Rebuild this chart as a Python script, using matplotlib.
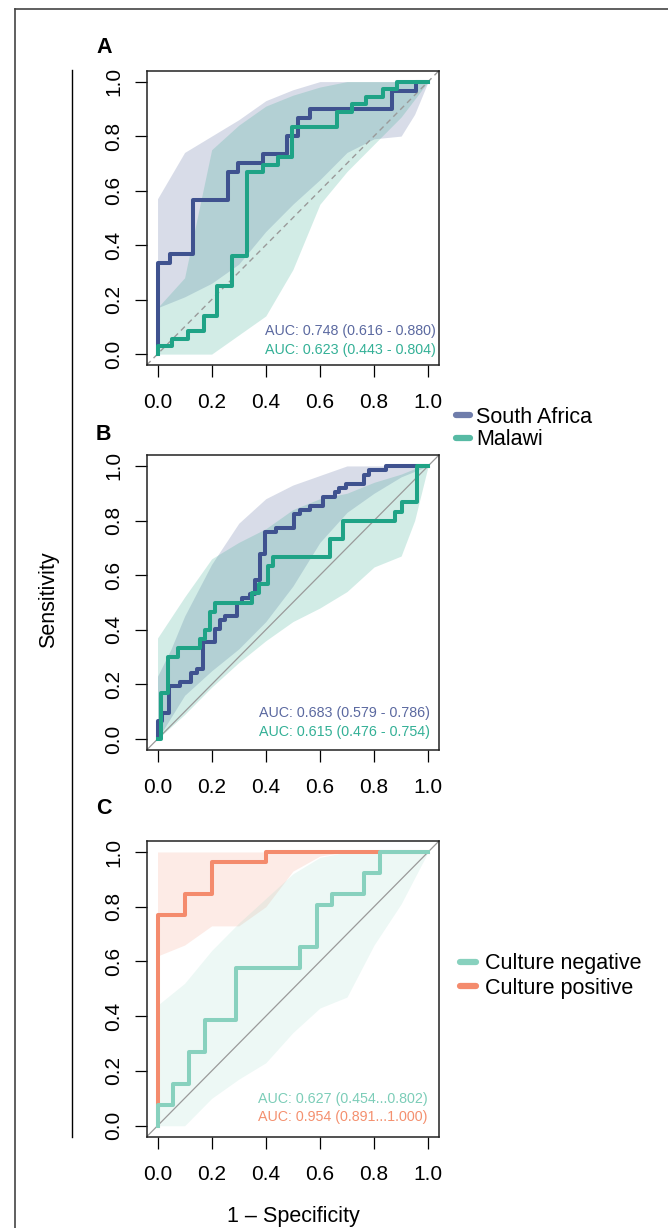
import numpy as np
import matplotlib
matplotlib.use('Agg')
import matplotlib.pyplot as plt
from matplotlib.lines import Line2D

plt.rcParams['font.family'] = ['Liberation Sans', 'DejaVu Sans']

# colours
sa_col = '#3F528F'
mw_col = '#1FA386'
neg_col = '#88D1BE'
pos_col = '#F48B6D'

# ---- panel A: ROC steps (1-specificity, sensitivity) ----
a_sa_x = [0, 0, 0.045, 0.131, 0.26, 0.297, 0.39, 0.478, 0.518, 0.565, 0.868, 0.955, 1.0]
a_sa_y = [0, 0.333, 0.367, 0.567, 0.667, 0.700, 0.733, 0.800, 0.867, 0.900, 0.967, 1.0, 1.0]
a_mw_x = [0, 0, 0.055, 0.113, 0.171, 0.22, 0.276, 0.33, 0.39, 0.445, 0.497, 0.662, 0.719, 0.77, 0.832, 0.885, 1.0]
a_mw_y = [0, 0.028, 0.056, 0.083, 0.139, 0.25, 0.361, 0.667, 0.694, 0.722, 0.833, 0.889, 0.917, 0.944, 0.972, 1.0, 1.0]
# confidence bands
a_sa_bx = [0, 0.1, 0.2, 0.3, 0.4, 0.5, 0.6, 0.7, 0.8, 0.9, 0.95, 1.0]
a_sa_lo = [0.17, 0.21, 0.26, 0.33, 0.45, 0.55, 0.64, 0.74, 0.79, 0.80, 0.88, 1.0]
a_sa_hi = [0.57, 0.74, 0.80, 0.86, 0.93, 0.97, 1.0, 1.0, 1.0, 1.0, 1.0, 1.0]
a_mw_bx = [0, 0.1, 0.2, 0.3, 0.4, 0.5, 0.6, 0.7, 0.8, 0.9, 1.0]
a_mw_lo = [0.0, 0.0, 0.0, 0.07, 0.14, 0.31, 0.55, 0.67, 0.77, 0.87, 1.0]
a_mw_hi = [0.17, 0.28, 0.75, 0.84, 0.91, 0.95, 0.98, 1.0, 1.0, 1.0, 1.0]
a_auc = ['AUC: 0.748 (0.616 - 0.880)', 'AUC: 0.623 (0.443 - 0.804)']

# ---- panel B ----
b_sa_x = [0, 0, 0.018, 0.043, 0.082, 0.125, 0.146, 0.168, 0.211, 0.23, 0.25, 0.294, 0.312, 0.343,
          0.359, 0.377, 0.398, 0.439, 0.504, 0.525, 0.564, 0.61, 0.654, 0.672, 0.697, 0.764, 0.782, 0.844, 1.0]
b_sa_y = [0, 0.065, 0.097, 0.194, 0.210, 0.242, 0.258, 0.355, 0.403, 0.435, 0.452, 0.500, 0.516, 0.532,
          0.581, 0.677, 0.758, 0.774, 0.823, 0.839, 0.855, 0.887, 0.903, 0.919, 0.935, 0.968, 0.984, 1.0, 1.0]
b_mw_x = [0, 0.012, 0.039, 0.076, 0.156, 0.174, 0.193, 0.211, 0.349, 0.375, 0.408, 0.426, 0.638, 0.684,
          0.878, 0.903, 0.958, 1.0]
b_mw_y = [0, 0.167, 0.300, 0.333, 0.367, 0.400, 0.467, 0.500, 0.533, 0.567, 0.633, 0.667, 0.733, 0.800,
          0.833, 0.867, 1.0, 1.0]
b_sa_bx = [0, 0.05, 0.1, 0.2, 0.3, 0.4, 0.5, 0.6, 0.7, 0.8, 0.9, 1.0]
b_sa_lo = [0.0, 0.08, 0.16, 0.25, 0.33, 0.43, 0.56, 0.72, 0.83, 0.90, 0.96, 1.0]
b_sa_hi = [0.23, 0.33, 0.45, 0.64, 0.79, 0.88, 0.93, 0.965, 1.0, 1.0, 1.0, 1.0]
b_mw_bx = [0, 0.1, 0.2, 0.3, 0.4, 0.5, 0.6, 0.7, 0.8, 0.9, 0.95, 1.0]
b_mw_lo = [0.0, 0.09, 0.19, 0.28, 0.36, 0.43, 0.48, 0.54, 0.63, 0.67, 0.80, 1.0]
b_mw_hi = [0.37, 0.52, 0.66, 0.72, 0.77, 0.84, 0.88, 0.90, 0.94, 0.97, 0.99, 1.0]
b_auc = ['AUC: 0.683 (0.579 - 0.786)', 'AUC: 0.615 (0.476 - 0.754)']

# ---- panel C ----
c_neg_x = [0, 0, 0.058, 0.117, 0.177, 0.291, 0.528, 0.588, 0.644, 0.762, 0.823, 1.0]
c_neg_y = [0, 0.077, 0.154, 0.269, 0.385, 0.577, 0.654, 0.808, 0.846, 0.923, 1.0, 1.0]
c_pos_x = [0, 0, 0.10, 0.20, 0.40, 1.0]
c_pos_y = [0, 0.769, 0.846, 0.962, 1.0, 1.0]
c_pos_bx = [0, 0.1, 0.2, 0.3, 0.4, 0.5, 0.6, 0.7, 1.0]
c_pos_lo = [0.62, 0.66, 0.73, 0.73, 0.80, 0.93, 0.985, 1.0, 1.0]
c_pos_hi = [1.0, 1.0, 1.0, 1.0, 1.0, 1.0, 1.0, 1.0, 1.0]
c_neg_bx = [0, 0.1, 0.2, 0.3, 0.4, 0.5, 0.6, 0.7, 0.8, 0.9, 1.0]
c_neg_lo = [0.0, 0.0, 0.10, 0.17, 0.23, 0.34, 0.43, 0.47, 0.66, 0.81, 1.0]
c_neg_hi = [0.44, 0.52, 0.64, 0.74, 0.83, 0.92, 0.98, 1.0, 1.0, 1.0, 1.0]
c_auc = ['AUC: 0.627 (0.454...0.802)', 'AUC: 0.954 (0.891...1.000)']

ticks = [0.0, 0.2, 0.4, 0.6, 0.8, 1.0]
tick_labels = ['0.0', '0.2', '0.4', '0.6', '0.8', '1.0']

W, H = 668, 1228
fig = plt.figure(figsize=(W / 100, H / 100), dpi=100)


def make_ax(top_px, bot_px):
    ax = fig.add_axes([146.7 / W, 1 - bot_px / H, 292.3 / W, (bot_px - top_px) / H])
    ax.set_xlim(-0.04, 1.04)
    ax.set_ylim(-0.04, 1.04)
    ax.set_xticks(ticks)
    ax.set_xticklabels(tick_labels)
    ax.set_yticks(ticks)
    ax.set_yticklabels(tick_labels, rotation=90, va='center')
    ax.tick_params(axis='both', length=8.5, width=0.9, labelsize=15, direction='out')
    ax.tick_params(axis='x', pad=12)
    ax.tick_params(axis='y', pad=8.5)
    for s in ax.spines.values():
        s.set_linewidth(1.1)
        s.set_color('#222222')
    return ax


def band(ax, bx, lo, hi, col, alpha):
    ax.fill_between(bx, lo, hi, color=col, alpha=alpha, linewidth=0, zorder=1)


def roc(ax, x, y, col):
    ax.plot(x, y, drawstyle='steps-post', color=col, lw=2.9, zorder=4)


def auc_text(ax, txt, cols, ys, xr):
    for t, c, yy in zip(txt, cols, ys):
        ax.text(xr, yy, t, color=c, ha='right', va='center', fontsize=10.3, zorder=5)


# A
axA = make_ax(70.7, 365)
band(axA, a_sa_bx, a_sa_lo, a_sa_hi, sa_col, 0.2)
band(axA, a_mw_bx, a_mw_lo, a_mw_hi, mw_col, 0.2)
axA.axline((0, 0), (1, 1), color='#9A9A9A', lw=1.0, ls=(0, (4, 3)), zorder=2)
roc(axA, a_sa_x, a_sa_y, sa_col)
roc(axA, a_mw_x, a_mw_y, mw_col)
auc_text(axA, a_auc, ['#5B69A0', '#33B096'], [0.083, 0.016], 1.028)

# B
axB = make_ax(455, 750)
band(axB, b_sa_bx, b_sa_lo, b_sa_hi, sa_col, 0.2)
band(axB, b_mw_bx, b_mw_lo, b_mw_hi, mw_col, 0.2)
axB.axline((0, 0), (1, 1), color='#9A9A9A', lw=0.9, zorder=2)
roc(axB, b_sa_x, b_sa_y, sa_col)
roc(axB, b_mw_x, b_mw_y, mw_col)
auc_text(axB, b_auc, ['#5B69A0', '#33B096'], [0.095, 0.026], 1.006)

# C
axC = make_ax(841, 1136.7)
band(axC, c_pos_bx, c_pos_lo, c_pos_hi, pos_col, 0.17)
band(axC, c_neg_bx, c_neg_lo, c_neg_hi, neg_col, 0.15)
axC.axline((0, 0), (1, 1), color='#9A9A9A', lw=0.9, zorder=2)
roc(axC, c_pos_x, c_pos_y, pos_col)
roc(axC, c_neg_x, c_neg_y, neg_col)
auc_text(axC, c_auc, ['#7CCDB8', '#F4906F'], [0.098, 0.031], 0.997)

# panel letters
for lab, ypx in [('A', 53), ('B', 440), ('C', 814)]:
    fig.text(96 / W, 1 - ypx / H, lab, fontsize=15.5, fontweight='bold', ha='left', va='baseline')

# axis titles
fig.text(49 / W, 1 - 600 / H, 'Sensitivity', rotation=90, ha='center', va='center', fontsize=15.5)
fig.text(293 / W, 1 - 1222 / H, '1 \u2013 Specificity', ha='center', va='baseline', fontsize=15.5)

# legends
h1 = [Line2D([], [], color=sa_col, lw=4.5, alpha=0.75, solid_capstyle='round'),
      Line2D([], [], color=mw_col, lw=4.5, alpha=0.75, solid_capstyle='round')]
fig.legend(h1, ['South Africa', 'Malawi'], loc='center left', bbox_to_anchor=(456 / W, 1 - 428.5 / H),
           frameon=False, fontsize=15.5, handlelength=0.65, handletextpad=0.3, labelspacing=0.05,
           borderpad=0, borderaxespad=0)
h2 = [Line2D([], [], color=neg_col, lw=4.5, solid_capstyle='round'),
      Line2D([], [], color=pos_col, lw=4.5, solid_capstyle='round')]
fig.legend(h2, ['Culture negative', 'Culture positive'], loc='center left',
           bbox_to_anchor=(460 / W, 1 - 976 / H), frameon=False, fontsize=15.5, handlelength=0.75,
           handletextpad=0.4, labelspacing=0.15, borderpad=0, borderaxespad=0)

# left bracket line and outer frame
fig.add_artist(Line2D([72 / W, 72 / W], [1 - 70 / H, 1 - 1137 / H], color='black', lw=1.0))
fig.add_artist(Line2D([15 / W, 15 / W], [0, 1 - 8.5 / H], color='#444444', lw=1.2))
fig.add_artist(Line2D([15 / W, 1], [1 - 8.5 / H, 1 - 8.5 / H], color='#444444', lw=1.2))

fig.savefig('out.png', dpi=100)
